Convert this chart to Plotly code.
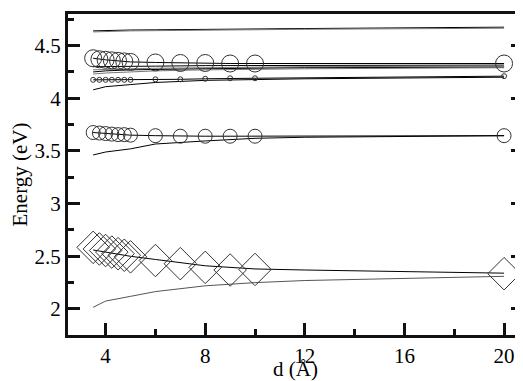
import plotly.graph_objects as go

# distances (Angstrom)
d_pts = [3.5, 3.75, 4.0, 4.25, 4.5, 4.75, 5.0, 6, 7, 8, 9, 10, 20]
d_line = [3.5, 4, 5, 6, 8, 10, 12, 20]

# marker series
big_circ_e = [4.38, 4.37, 4.365, 4.36, 4.355, 4.35, 4.345, 4.34, 4.335, 4.335, 4.33, 4.33, 4.33]
small_circ_e = [4.175, 4.175, 4.175, 4.175, 4.175, 4.175, 4.175, 4.18, 4.18, 4.185, 4.19, 4.19, 4.21]
mid_circ_e = [3.675, 3.67, 3.665, 3.66, 3.655, 3.655, 3.65, 3.645, 3.64, 3.64, 3.64, 3.64, 3.645]
diamond_e = [2.585, 2.57, 2.555, 2.54, 2.525, 2.51, 2.495, 2.46, 2.43, 2.395, 2.37, 2.375, 2.335]

# plain curves
top_a = [4.64, 4.645, 4.648, 4.65, 4.655, 4.66, 4.662, 4.675]
top_b = [4.63, 4.635, 4.64, 4.642, 4.648, 4.652, 4.655, 4.665]
grp_1 = [4.30, 4.30, 4.305, 4.305, 4.31, 4.31, 4.31, 4.315]
grp_2 = [4.27, 4.275, 4.28, 4.285, 4.29, 4.295, 4.30, 4.305]
grp_3 = [4.25, 4.26, 4.27, 4.275, 4.28, 4.285, 4.29, 4.295]
grp_4 = [4.23, 4.24, 4.25, 4.26, 4.27, 4.275, 4.28, 4.29]
low_41 = [4.08, 4.11, 4.13, 4.15, 4.17, 4.18, 4.185, 4.20]
low_35 = [3.462, 3.49, 3.52, 3.566, 3.595, 3.62, 3.63, 3.645]
dia_line = [2.56, 2.54, 2.50, 2.47, 2.41, 2.38, 2.37, 2.34]
low_20 = [2.016, 2.075, 2.12, 2.165, 2.22, 2.25, 2.27, 2.31]

x_range = [2.49, 20.76]
y_range = [1.753, 4.80]

fig = go.Figure()

curves = [
    (top_a, "black"), (top_b, "#777"),
    (grp_1, "black"), (grp_2, "#777"), (grp_3, "black"), (grp_4, "#777"),
    (low_41, "black"), (low_35, "black"),
    (dia_line, "black"), (low_20, "#555"),
]
for ys, col in curves:
    fig.add_trace(go.Scatter(x=d_line, y=ys, mode="lines",
                             line=dict(color=col, width=1)))

fig.add_trace(go.Scatter(x=d_pts, y=big_circ_e, mode="lines+markers",
                         line=dict(color="black", width=1),
                         marker=dict(symbol="circle-open", size=17, color="#333",
                                     line=dict(width=1))))
fig.add_trace(go.Scatter(x=d_pts, y=small_circ_e, mode="lines+markers",
                         line=dict(color="black", width=1),
                         marker=dict(symbol="circle-open", size=5, color="#333",
                                     line=dict(width=1))))
fig.add_trace(go.Scatter(x=d_pts, y=mid_circ_e, mode="lines+markers",
                         line=dict(color="black", width=1),
                         marker=dict(symbol="circle-open", size=14, color="#333",
                                     line=dict(width=1))))
fig.add_trace(go.Scatter(x=d_pts, y=diamond_e, mode="markers",
                         marker=dict(symbol="diamond-open", size=25, color="#333",
                                     line=dict(width=1))))

# empty trace on the overlay axes that carry the short (minor) ticks
fig.add_trace(go.Scatter(x=[], y=[], xaxis="x2", yaxis="y2", mode="lines"))

font = dict(family="Liberation Serif", size=21, color="black")

# the page body adds 8px around the figure, so size and margins are reduced by 8
fig.update_layout(
    width=515, height=373,
    margin=dict(l=60, r=0, t=6, b=46),
    paper_bgcolor="white", plot_bgcolor="white",
    showlegend=False,
    font=font,
    xaxis=dict(
        range=x_range, dtick=4,
        ticks="inside", ticklen=12, tickwidth=3, tickcolor="#111",
        showline=True, linecolor="#111", linewidth=3, mirror=True,
        showgrid=False, zeroline=False, automargin=False,
        title=dict(text="d (Å)", font=font, standoff=0),
    ),
    yaxis=dict(
        range=y_range, dtick=0.5,
        ticks="inside", ticklen=12, tickwidth=3, tickcolor="#111",
        showline=True, linecolor="#111", linewidth=3, mirror="allticks",
        showgrid=False, zeroline=False, automargin=False,
        title=dict(text="Energy (eV)", font=font, standoff=2),
    ),
    xaxis2=dict(
        range=x_range, overlaying="x", anchor="y", side="bottom", dtick=2,
        ticks="inside", ticklen=6, tickwidth=3, tickcolor="#111",
        showticklabels=False, showline=False,
        showgrid=False, zeroline=False, automargin=False,
    ),
    yaxis2=dict(
        range=y_range, overlaying="y", anchor="x", side="left", dtick=0.25,
        ticks="inside", ticklen=6, tickwidth=3, tickcolor="#111",
        showticklabels=False, showline=False, mirror="allticks",
        showgrid=False, zeroline=False, automargin=False,
    ),
)

fig.write_html("out.html")
